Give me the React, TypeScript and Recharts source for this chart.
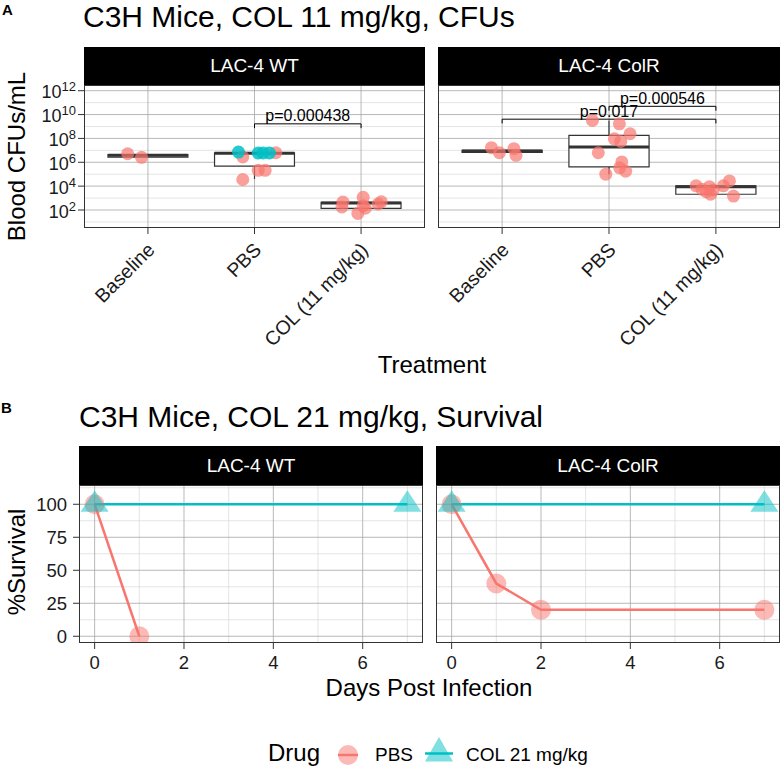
import React from 'react';
import {
  ComposedChart, Scatter, Line, XAxis, YAxis, CartesianGrid,
  ReferenceArea, ReferenceLine, ReferenceDot,
} from 'recharts';

const FONT = '"Liberation Sans", Arial, Helvetica, sans-serif';
const PINK = '#F8766D';
const CYAN = '#00BFC4';
const INK = '#1a1a1a';
const GRID_MAJOR = '#a6a6a6';
const GRID_MINOR = '#d9d9d9';

// ---- A: blood CFUs ----
const treatments = ['Baseline', 'PBS', 'COL (11 mg/kg)'];
const strains = ['LAC-4 WT', 'LAC-4 ColR'];
const cfuTicks = [1e2, 1e4, 1e6, 1e8, 1e10, 1e12];
const cfuMinor = [1e1, 1e3, 1e5, 1e7, 1e9, 1e11];

// x = treatment index + jitter offset as it sits in the picture
const wtPink = [
  { x: -0.19, cfu: 5.2e6 }, { x: -0.06, cfu: 2.6e6 },
  { x: 0.89, cfu: 3.6e4 }, { x: 0.89, cfu: 2.8e6 }, { x: 1.035, cfu: 2.1e5 },
  { x: 1.1, cfu: 2.1e5 }, { x: 1.2, cfu: 6.3e6 },
  { x: 1.83, cfu: 470 }, { x: 1.82, cfu: 180 }, { x: 1.97, cfu: 52 }, { x: 2.02, cfu: 1150 },
  { x: 2.02, cfu: 230 }, { x: 2.04, cfu: 140 }, { x: 2.16, cfu: 320 }, { x: 2.19, cfu: 490 },
];
const wtCyan = [
  { x: 0.85, cfu: 7.2e6 }, { x: 1.035, cfu: 6.0e6 }, { x: 1.08, cfu: 6.0e6 }, { x: 1.14, cfu: 6.0e6 },
];
const colrPink = [
  { x: -0.1, cfu: 1.66e7 }, { x: -0.025, cfu: 6.3e6 }, { x: 0.11, cfu: 1.38e7 }, { x: 0.13, cfu: 3.8e6 },
  { x: 0.845, cfu: 3.2e9 }, { x: 1.097, cfu: 1.66e9 }, { x: 1.197, cfu: 2.45e8 }, { x: 1.05, cfu: 9.3e7 },
  { x: 1.11, cfu: 5.6e7 }, { x: 0.9, cfu: 6.3e6 }, { x: 1.12, cfu: 1.07e6 }, { x: 1.1, cfu: 3.4e5 },
  { x: 1.156, cfu: 1.8e5 }, { x: 0.97, cfu: 1.0e5 },
  { x: 1.815, cfu: 1.07e4 }, { x: 1.87, cfu: 5.6e3 }, { x: 1.94, cfu: 8.7e3 }, { x: 1.95, cfu: 2.1e3 },
  { x: 1.91, cfu: 3.4e3 }, { x: 2.07, cfu: 1.07e4 }, { x: 2.127, cfu: 2.75e4 }, { x: 2.165, cfu: 1.48e3 },
  { x: 1.975, cfu: 4.7e3 },
];
const colrCyan: { x: number; cfu: number }[] = [];

const wtBoxes = [
  { x: 0, q1: 2.75e6, med: 3.8e6, q3: 4.4e6, lo: null, hi: null },
  { x: 1, q1: 4.7e5, med: 5.8e6, q3: 6.2e6, lo: 4.0e4, hi: null },
  { x: 2, q1: 138, med: 380, q3: 440, lo: null, hi: null },
];
const colrBoxes = [
  { x: 0, q1: 6.6e6, med: 8.7e6, q3: 1.0e7, lo: null, hi: null },
  { x: 1, q1: 4.1e5, med: 1.9e7, q3: 1.78e8, lo: 1.0e5, hi: 3.2e9 },
  { x: 2, q1: 2.1e3, med: 8.7e3, q3: 1.07e4, lo: null, hi: null },
];

const wtBrackets = [{ from: 1, to: 2, y: 1.66e9, tip: 7.2e8, text: 'p=0.000438' }];
const colrBrackets = [
  { from: 0, to: 2, y: 4.1e9, tip: 1.8e9, text: 'p=0.017' },
  { from: 1, to: 2, y: 4.9e10, tip: 2.1e10, text: 'p=0.000546' },
];

// ---- B: survival ----
const dayTicks = [0, 2, 4, 6];
const dayMinor = [1, 3, 5, 7];
const pctTicks = [0, 25, 50, 75, 100];
const pctMinor = [12.5, 37.5, 62.5, 87.5, 112.5];
const drugs = ['PBS', 'COL 21 mg/kg'];

const wtPbs = [{ day: 0, pct: 100 }, { day: 1, pct: 0 }];
const wtCol = [{ day: 0, pct: 100 }, { day: 7, pct: 100 }];
const colrPbs = [{ day: 0, pct: 100 }, { day: 1, pct: 40 }, { day: 2, pct: 20 }, { day: 7, pct: 20 }];
const colrCol = [{ day: 0, pct: 100 }, { day: 7, pct: 100 }];

function PowerTick(props: any) {
  const { x, y, payload } = props;
  const exp = Math.round(Math.log10(payload.value));
  return (
    <text x={x} y={y + 7.5} textAnchor="end" fontFamily={FONT} fill={INK}>
      <tspan fontSize={18}>10</tspan>
      <tspan fontSize={13} dy={-7}>{exp}</tspan>
    </text>
  );
}

function TreatmentTick(props: any) {
  const { x, y, payload } = props;
  const ax = x + 8;
  const ay = y + 15;
  return (
    <text x={ax} y={ay} transform={`rotate(-45 ${ax} ${ay})`} textAnchor="end"
      fontSize={19.5} fontFamily={FONT} fill={INK}>
      {treatments[payload.value]}
    </text>
  );
}

const dot = (color: string, r: number, op: number) => (p: any) =>
  <circle cx={p.cx} cy={p.cy} r={r} fill={color} fillOpacity={op} />;

const tri = (p: any) => (
  <polygon points={`${p.cx},${p.cy - 14} ${p.cx - 14},${p.cy + 7.5} ${p.cx + 14},${p.cy + 7.5}`}
    fill={CYAN} fillOpacity={0.5} />
);

function Strip({ left, top, width, height, text }: any) {
  return (
    <div style={{
      position: 'absolute', left, top, width, height, background: '#000', color: '#fff',
      fontFamily: FONT, fontSize: 19, lineHeight: `${height}px`, textAlign: 'center',
    }}>{text}</div>
  );
}

function Frame({ left, top, width, height }: any) {
  return (
    <div style={{
      position: 'absolute', left, top, width, height, boxSizing: 'border-box',
      border: '1.3px solid #333', pointerEvents: 'none',
    }} />
  );
}

function CfuFacet({ left, width, showY, pink, cyan, boxes, brackets }: any) {
  return (
    <div style={{ position: 'absolute', left, top: 65 }}>
      <ComposedChart width={width} height={320} margin={{ top: 20, right: 0, bottom: 0, left: 0 }}>
        <CartesianGrid horizontalValues={cfuMinor} vertical={false} stroke={GRID_MINOR} strokeWidth={0.7} />
        <CartesianGrid horizontalValues={cfuTicks} verticalValues={[0, 1, 2]} stroke={GRID_MAJOR} strokeWidth={0.8} />
        <XAxis type="number" dataKey="x" domain={[-0.6, 2.6]} ticks={[0, 1, 2]} allowDataOverflow
          height={157} axisLine={false} tickSize={6} tickLine={{ stroke: '#333' }}
          tick={(p: any) => <TreatmentTick {...p} />} interval={0} />
        <YAxis type="number" dataKey="cfu" scale="log" domain={[3.1, 3.0e12]} allowDataOverflow
          ticks={cfuTicks} width={84} hide={!showY} axisLine={false} tickSize={6} tickMargin={2}
          tickLine={{ stroke: '#333' }} tick={(p: any) => <PowerTick {...p} />} interval={0} />
        {boxes.map((b: any) => (
          <ReferenceArea key={`box${b.x}`} x1={b.x - 0.375} x2={b.x + 0.375} y1={b.q1} y2={b.q3}
            fill="#fff" fillOpacity={1} stroke="#333" strokeWidth={1.2} />
        ))}
        {boxes.filter((b: any) => b.lo).map((b: any) => (
          <ReferenceLine key={`lo${b.x}`} segment={[{ x: b.x, y: b.q1 }, { x: b.x, y: b.lo }]}
            stroke="#333" strokeWidth={1.2} />
        ))}
        {boxes.filter((b: any) => b.hi).map((b: any) => (
          <ReferenceLine key={`hi${b.x}`} segment={[{ x: b.x, y: b.q3 }, { x: b.x, y: b.hi }]}
            stroke="#333" strokeWidth={1.2} />
        ))}
        {boxes.map((b: any) => (
          <ReferenceLine key={`med${b.x}`} segment={[{ x: b.x - 0.375, y: b.med }, { x: b.x + 0.375, y: b.med }]}
            stroke="#333" strokeWidth={3} />
        ))}
        <Scatter data={pink} fill={PINK} shape={dot(PINK, 6.5, 0.7)} isAnimationActive={false} />
        <Scatter data={cyan} fill={CYAN} shape={dot(CYAN, 6.5, 0.85)} isAnimationActive={false} />
        {brackets.map((k: any) => (
          <ReferenceLine key={`br${k.text}`} segment={[
            { x: k.from, y: k.y }, { x: k.to, y: k.y },
          ]} stroke="#000" strokeWidth={1} />
        ))}
        {brackets.map((k: any) => (
          <ReferenceLine key={`tl${k.text}`} segment={[{ x: k.from, y: k.y }, { x: k.from, y: k.tip }]}
            stroke="#000" strokeWidth={1} />
        ))}
        {brackets.map((k: any) => (
          <ReferenceLine key={`tr${k.text}`} segment={[{ x: k.to, y: k.y }, { x: k.to, y: k.tip }]}
            stroke="#000" strokeWidth={1} />
        ))}
        {brackets.map((k: any) => (
          <ReferenceDot key={`lb${k.text}`} x={(k.from + k.to) / 2} y={k.y} r={0}
            shape={(p: any) => (
              <text x={p.cx} y={p.cy - 2.5} textAnchor="middle" fontSize={16} fontFamily={FONT} fill="#000">
                {k.text}
              </text>
            )} />
        ))}
      </ComposedChart>
    </div>
  );
}

function SurvivalFacet({ left, width, showY, pbs, col }: any) {
  return (
    <div style={{ position: 'absolute', left, top: 475 }}>
      <ComposedChart width={width} height={198} margin={{ top: 10, right: 0, bottom: 0, left: 0 }}>
        <CartesianGrid horizontalValues={pctMinor} verticalValues={dayMinor} stroke={GRID_MINOR} strokeWidth={0.7} />
        <CartesianGrid horizontalValues={pctTicks} verticalValues={dayTicks} stroke={GRID_MAJOR} strokeWidth={0.8} />
        <XAxis type="number" dataKey="day" domain={[-0.35, 7.35]} ticks={dayTicks} allowDataOverflow
          height={30} axisLine={false} tickSize={6} tickMargin={7} tickLine={{ stroke: '#333' }}
          tick={{ fontSize: 18.5, fill: INK, fontFamily: FONT }} interval={0} />
        <YAxis type="number" dataKey="pct" domain={[-5.1, 114.6]} ticks={pctTicks} allowDataOverflow
          width={79} hide={!showY} axisLine={false} tickSize={6} tickMargin={6}
          tickLine={{ stroke: '#333' }} tick={{ fontSize: 18.5, fill: INK, fontFamily: FONT }} interval={0} />
        <Scatter data={pbs} shape={dot(PINK, 10, 0.5)} isAnimationActive={false} />
        <Scatter data={col} shape={tri} isAnimationActive={false} />
        <Line data={pbs} dataKey="pct" type="linear" stroke={PINK} strokeWidth={2.5} dot={false} isAnimationActive={false} />
        <Line data={col} dataKey="pct" type="linear" stroke={CYAN} strokeWidth={2.5} dot={false} isAnimationActive={false} />
      </ComposedChart>
    </div>
  );
}

export default function App() {
  return (
    <div style={{ position: 'absolute', left: 0, top: 0, width: 780, height: 768, overflow: 'hidden', background: '#fff' }}>
      <svg width={780} height={768} style={{ position: 'absolute', left: 0, top: 0 }} fontFamily={FONT}>
        <text x={2} y={15} fontSize={15} fontWeight="bold">A</text>
        <text x={83} y={27} fontSize={30} fill="#000">C3H Mice, COL 11 mg/kg, CFUs</text>
        <text x={25} y={156.5} fontSize={24} textAnchor="middle" transform="rotate(-90 25 156.5)">Blood CFUs/mL</text>
        <text x={432} y={373} fontSize={24} textAnchor="middle">Treatment</text>

        <text x={1} y={413} fontSize={15} fontWeight="bold">B</text>
        <text x={79} y={427} fontSize={30} fill="#000">C3H Mice, COL 21 mg/kg, Survival</text>
        <text x={25} y={562} fontSize={24} textAnchor="middle" transform="rotate(-90 25 562)">%Survival</text>
        <text x={429} y={696} fontSize={24} textAnchor="middle">Days Post Infection</text>

        <text x={268} y={761} fontSize={24}>Drug</text>
        <circle cx={348} cy={755} r={10} fill={PINK} fillOpacity={0.5} />
        <line x1={338} x2={358} y1={755} y2={755} stroke={PINK} strokeWidth={2.5} />
        <text x={375} y={761} fontSize={19}>{drugs[0]}</text>
        <polygon points="439,737 425,761.5 453,761.5" fill={CYAN} fillOpacity={0.5} />
        <line x1={425} x2={453} y1={753.5} y2={753.5} stroke={CYAN} strokeWidth={2.5} />
        <text x={466} y={761} fontSize={19}>{drugs[1]}</text>
      </svg>

      <CfuFacet left={0} width={425} showY pink={wtPink} cyan={wtCyan} boxes={wtBoxes} brackets={wtBrackets} />
      <CfuFacet left={438} width={342} showY={false} pink={colrPink} cyan={colrCyan} boxes={colrBoxes} brackets={colrBrackets} />
      <Frame left={84} top={85} width={341} height={143} />
      <Frame left={438} top={85} width={342} height={143} />
      <Strip left={84} top={47} width={341} height={38} text={strains[0]} />
      <Strip left={438} top={47} width={342} height={38} text={strains[1]} />

      <SurvivalFacet left={0} width={423} showY pbs={wtPbs} col={wtCol} />
      <SurvivalFacet left={436} width={344} showY={false} pbs={colrPbs} col={colrCol} />
      <Frame left={79} top={485} width={344} height={158} />
      <Frame left={436} top={485} width={344} height={158} />
      <Strip left={79} top={446} width={344} height={39} text={strains[0]} />
      <Strip left={436} top={446} width={344} height={39} text={strains[1]} />
    </div>
  );
}
